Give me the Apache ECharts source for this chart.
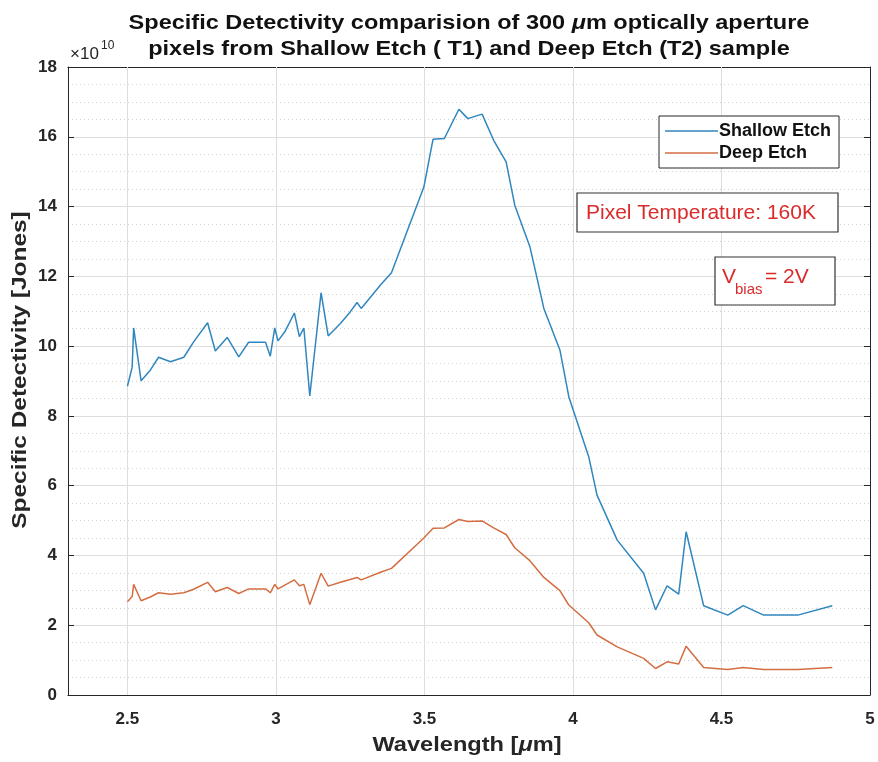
<!DOCTYPE html>
<html>
<head>
<meta charset="utf-8">
<script src="https://cdn.jsdelivr.net/npm/echarts@6/dist/echarts.min.js"></script>
<style>
  html, body { margin: 0; padding: 0; background: #ffffff; }
  #chart { width: 878px; height: 762px; }
</style>
</head>
<body>
<div id="chart"></div>
<script>
// Wavelength samples in micrometres (shared by both measurements)
const wavelength = [2.500, 2.516, 2.521, 2.546, 2.577, 2.605, 2.645, 2.690, 2.723, 2.770,
  2.796, 2.836, 2.875, 2.908, 2.965, 2.981, 2.996, 3.007, 3.030, 3.062,
  3.079, 3.094, 3.114, 3.152, 3.176, 3.217, 3.250, 3.273, 3.287, 3.352,
  3.389, 3.498, 3.529, 3.567, 3.616, 3.646, 3.694, 3.733, 3.775, 3.804,
  3.855, 3.902, 3.956, 3.986, 4.053, 4.081, 4.149, 4.238, 4.278, 4.317,
  4.356, 4.381, 4.440, 4.521, 4.573, 4.642, 4.757, 4.873];

// Specific detectivity, in units of 1e10 Jones
const shallowEtch = [8.85, 9.39, 10.52, 9.01, 9.31, 9.68, 9.55, 9.68, 10.12, 10.67,
  9.86, 10.25, 9.69, 10.11, 10.11, 9.71, 10.52, 10.15, 10.41, 10.95,
  10.27, 10.52, 8.57, 11.53, 10.29, 10.65, 10.98, 11.25, 11.08, 11.75,
  12.10, 14.56, 15.93, 15.95, 16.79, 16.52, 16.65, 15.90, 15.28, 14.04,
  12.85, 11.08, 9.89, 8.55, 6.83, 5.73, 4.44, 3.49, 2.44, 3.13,
  2.89, 4.68, 2.56, 2.29, 2.56, 2.29, 2.29, 2.56];

const deepEtch = [2.67, 2.82, 3.17, 2.70, 2.81, 2.93, 2.89, 2.93, 3.03, 3.23,
  2.96, 3.08, 2.91, 3.04, 3.04, 2.93, 3.17, 3.04, 3.15, 3.30,
  3.13, 3.17, 2.59, 3.49, 3.12, 3.23, 3.31, 3.37, 3.30, 3.52,
  3.63, 4.50, 4.78, 4.79, 5.03, 4.97, 4.99, 4.79, 4.60, 4.22,
  3.85, 3.37, 2.99, 2.58, 2.07, 1.72, 1.38, 1.05, 0.76, 0.95,
  0.89, 1.40, 0.79, 0.73, 0.79, 0.73, 0.73, 0.79];

// Axis ranges and tick labels
const xRange = [2.3, 5];
const xMajorTicks = [2.5, 3, 3.5, 4, 4.5, 5];
const xMinorStep = 0.1;
const yRange = [0, 18];
const yMajorStep = 2;

const seriesNames = ['Shallow Etch', 'Deep Etch'];

const FONT = '"Liberation Sans", Arial, Helvetica, sans-serif';
const INK = '#262626';
const GRID_MAJOR = '#dedede';
const GRID_MINOR = '#cfcfcf';
const RED = '#d92b2b';
const BLUE = '#3086be';
const ORANGE = '#d46e42';

const chart = echarts.init(document.getElementById('chart'), null, { renderer: 'canvas' });

const pairs = (ys) => wavelength.map((w, i) => [w, ys[i]]);

const plot = { left: 68, right: 8, top: 67, bottom: 67 };
const plotW = 878 - plot.left - plot.right;
const plotCx = plot.left + plotW / 2;

const option = {
  backgroundColor: '#ffffff',
  animation: false,
  grid: { left: plot.left, right: plot.right, top: plot.top, bottom: plot.bottom, containLabel: false },
  legend: {
    data: [
      { name: seriesNames[0], icon: 'rect', itemStyle: { color: BLUE } },
      { name: seriesNames[1], icon: 'rect', itemStyle: { color: ORANGE } }
    ],
    orient: 'vertical',
    left: 659,
    top: 116,
    padding: [6, 8, 6, 6],
    itemGap: 4,
    itemWidth: 53,
    itemHeight: 1.5,
    backgroundColor: '#ffffff',
    borderColor: INK,
    borderWidth: 1,
    borderRadius: 0,
    selectedMode: false,
    z: 20,
    textStyle: { fontFamily: FONT, fontWeight: 'bold', fontSize: 18, color: '#111', padding: [0, 0, 0, -4] }
  },
  xAxis: [
    {
      type: 'value', position: 'bottom',
      min: xRange[0], max: xRange[1], interval: xMinorStep,
      axisLine: { show: true, onZero: false, lineStyle: { color: INK, width: 1 } },
      axisTick: { show: true, inside: true, length: 6, customValues: xMajorTicks, lineStyle: { color: INK } },
      axisLabel: {
        show: true, customValues: xMajorTicks, margin: 16,
        fontFamily: FONT, fontWeight: 'bold', fontSize: 17, color: INK,
        formatter: (v) => String(+(+v).toFixed(2))
      },
      splitLine: { show: true, lineStyle: { color: GRID_MINOR, type: [1, 3], width: 1 } }
    },
    {
      type: 'value', position: 'top',
      min: xRange[0], max: xRange[1], interval: xMinorStep,
      axisLine: { show: true, onZero: false, lineStyle: { color: INK, width: 1 } },
      axisTick: { show: true, inside: true, length: 6, customValues: xMajorTicks, lineStyle: { color: INK } },
      axisLabel: { show: false },
      splitLine: { show: false }
    }
  ],
  yAxis: [
    {
      type: 'value', position: 'left',
      min: yRange[0], max: yRange[1], interval: yMajorStep,
      axisLine: { show: true, onZero: false, lineStyle: { color: INK, width: 1 } },
      axisTick: { show: true, inside: true, length: 6, lineStyle: { color: INK } },
      axisLabel: { show: true, margin: 11, fontFamily: FONT, fontWeight: 'bold', fontSize: 17, color: INK },
      splitLine: { show: true, lineStyle: { color: GRID_MAJOR, type: 'solid', width: 1 } },
      minorTick: { show: false, splitNumber: 4 },
      minorSplitLine: { show: true, lineStyle: { color: GRID_MINOR, type: [1, 3], width: 1 } }
    },
    {
      type: 'value', position: 'right',
      min: yRange[0], max: yRange[1], interval: yMajorStep,
      axisLine: { show: true, onZero: false, lineStyle: { color: INK, width: 1 } },
      axisTick: { show: true, inside: true, length: 6, lineStyle: { color: INK } },
      axisLabel: { show: false },
      splitLine: { show: false }
    }
  ],
  series: [
    {
      // solid vertical grid lines at the labelled wavelengths
      name: 'major-grid', type: 'line', data: [], silent: true, z: 1,
      xAxisIndex: 0, yAxisIndex: 0,
      markLine: {
        silent: true, symbol: ['none', 'none'], animation: false, z: 1,
        label: { show: false },
        lineStyle: { color: GRID_MAJOR, type: 'solid', width: 1 },
        emphasis: { disabled: true },
        data: xMajorTicks.filter((v) => v > xRange[0] && v < xRange[1]).map((v) => ({ xAxis: v }))
      }
    },
    {
      name: seriesNames[0], type: 'line', data: pairs(shallowEtch),
      xAxisIndex: 0, yAxisIndex: 0, z: 3,
      symbol: 'none', smooth: false,
      lineStyle: { color: BLUE, width: 1.5 },
      itemStyle: { color: BLUE }
    },
    {
      name: seriesNames[1], type: 'line', data: pairs(deepEtch),
      xAxisIndex: 0, yAxisIndex: 0, z: 3,
      symbol: 'none', smooth: false,
      lineStyle: { color: ORANGE, width: 1.5 },
      itemStyle: { color: ORANGE }
    }
  ],
  graphic: [
    {
      type: 'text', x: plotCx, y: 10, scaleX: 1.12, z: 50,
      style: {
        text: '{b|Specific Detectivity comparision of 300 }{i|μ}{b|m optically aperture}\n{b|pixels from Shallow Etch ( T1) and Deep Etch (T2) sample}',
        align: 'center', verticalAlign: 'top',
        rich: {
          b: { fontFamily: FONT, fontWeight: 'bold', fontSize: 21, lineHeight: 26, fill: '#111' },
          i: { fontFamily: FONT, fontWeight: 'bold', fontStyle: 'italic', fontSize: 21, lineHeight: 26, fill: '#111' }
        }
      }
    },
    {
      type: 'text', x: 70, y: 54, z: 50,
      style: { text: '×10', align: 'left', verticalAlign: 'middle', fontFamily: FONT, fontSize: 17, fill: INK }
    },
    {
      type: 'text', x: 101, y: 46, z: 50,
      style: { text: '10', align: 'left', verticalAlign: 'middle', fontFamily: FONT, fontSize: 12, fill: INK }
    },
    {
      type: 'text', x: plotCx - 2, y: 745, scaleX: 1.18, z: 50,
      style: {
        text: '{b|Wavelength [}{i|μ}{b|m]}',
        align: 'center', verticalAlign: 'middle',
        rich: {
          b: { fontFamily: FONT, fontWeight: 'bold', fontSize: 20, fill: INK },
          i: { fontFamily: FONT, fontWeight: 'bold', fontStyle: 'italic', fontSize: 20, fill: INK }
        }
      }
    },
    {
      type: 'text', x: 20, y: 370, rotation: Math.PI / 2, scaleX: 1.22, z: 50,
      style: {
        text: 'Specific Detectivity [Jones]',
        align: 'center', verticalAlign: 'middle',
        fontFamily: FONT, fontWeight: 'bold', fontSize: 20, fill: INK
      }
    },
    {
      type: 'rect', x: 577, y: 193, z: 50,
      shape: { x: 0, y: 0, width: 261, height: 39 },
      style: { fill: '#ffffff', stroke: '#333333', lineWidth: 1.2 }
    },
    {
      type: 'text', x: 586, y: 213, z: 51,
      style: { text: 'Pixel Temperature: 160K', align: 'left', verticalAlign: 'middle',
        fontFamily: FONT, fontSize: 21, fill: RED }
    },
    {
      type: 'rect', x: 715, y: 257, z: 50,
      shape: { x: 0, y: 0, width: 120, height: 48 },
      style: { fill: '#ffffff', stroke: '#333333', lineWidth: 1.2 }
    },
    {
      type: 'text', x: 722, y: 277, z: 51,
      style: { text: 'V', align: 'left', verticalAlign: 'middle', fontFamily: FONT, fontSize: 21, fill: RED }
    },
    {
      type: 'text', x: 735, y: 290, z: 51,
      style: { text: 'bias', align: 'left', verticalAlign: 'middle', fontFamily: FONT, fontSize: 15, fill: RED }
    },
    {
      type: 'text', x: 765, y: 277, z: 51,
      style: { text: '= 2V', align: 'left', verticalAlign: 'middle', fontFamily: FONT, fontSize: 21, fill: RED }
    }
  ]
};

chart.setOption(option);
</script>
</body>
</html>
